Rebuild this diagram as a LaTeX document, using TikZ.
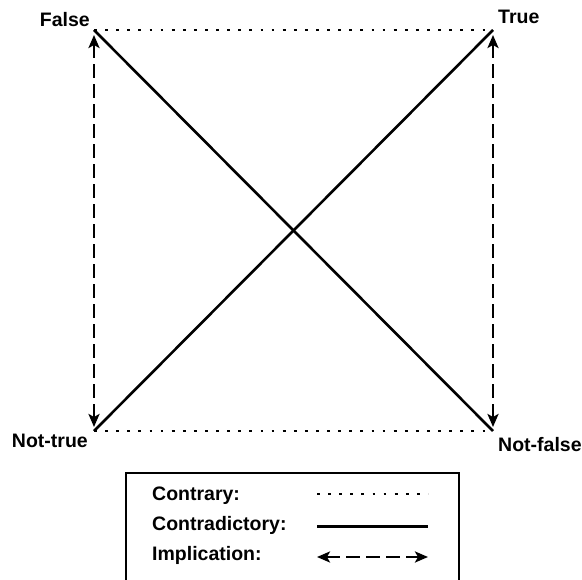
\documentclass[tikz,border=0pt]{standalone}
\usepackage{fontspec}
\setmainfont{Liberation Sans}
\usetikzlibrary{arrows.meta,positioning}

\tikzset{
  cornerlabel/.style={font=\fontsize{19.5}{22}\selectfont\bfseries, inner sep=0pt},
  keylabel/.style={font=\fontsize{19.5}{22}\selectfont\bfseries, inner sep=0pt, anchor=base west},
  contrary/.style={line width=2.8pt, dash pattern=on 2.8pt off 8.3pt},
  contradict/.style={line width=2.6pt},
  implies/.style={line width=2.6pt, dash pattern=on 14pt off 6pt,
    {Stealth[length=13pt,width=11pt,inset=3pt]}-{Stealth[length=13pt,width=11pt,inset=3pt]}},
}

\begin{document}
\begin{tikzpicture}[x=1pt, y=-1pt]
\useasboundingbox (0,0) rectangle (582,580);

% ── Square of opposition ─────────────────────────────────────────────
\coordinate (F)  at (94,30);
\coordinate (T)  at (493,30);
\coordinate (NT) at (94,431);
\coordinate (NF) at (493,431);

\node[cornerlabel, anchor=base east] (lF)  at (90,27)  {False};
\node[cornerlabel, anchor=base west] (lT)  at (498,24) {True};
\node[cornerlabel, anchor=base east] (lNT) at (88,448) {Not-true};
\node[cornerlabel, anchor=base west] (lNF) at (498,452) {Not-false};

% contrary (top and bottom)
\draw[contrary] (F) -- (T);
\draw[contrary] (NT) -- (NF);

% contradictory (diagonals)
\draw[contradict] (F) -- (NF);
\draw[contradict] (NT) -- (T);

% implication (sides)
\draw[implies, shorten <=5pt, shorten >=4pt] (F) -- (NT);
\draw[implies, shorten <=5pt, shorten >=4pt] (T) -- (NF);

% ════════════════════════════════════════════════════════════════════
% LEGEND
% ════════════════════════════════════════════════════════════════════
\draw[line width=1.4pt] (126,584) |- (459,473) -- (459,584);

\node[keylabel] (kC)  at (152,500.5) {Contrary:};
\node[keylabel] (kCd) at (152,530.5) {Contradictory:};
\node[keylabel] (kI)  at (152,561)   {Implication:};

\coordinate (c1) at (317,494);   \coordinate (c2) at (428,494);
\coordinate (d1) at (317,526.5); \coordinate (d2) at (428,526.5);
\coordinate (i1) at (317,557);   \coordinate (i2) at (428,557);

\draw[contrary]   (c1) -- (c2);
\draw[contradict] (d1) -- (d2);
\draw[implies]    (i1) -- (i2);

\end{tikzpicture}
\end{document}
